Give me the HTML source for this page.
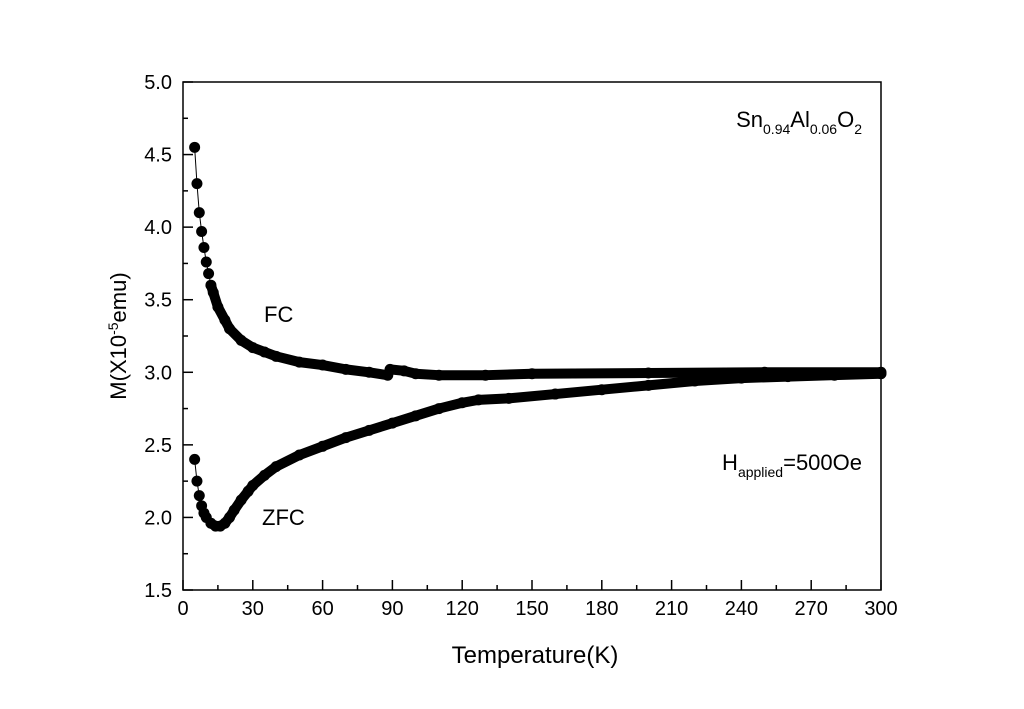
<!DOCTYPE html>
<html><head><meta charset="utf-8"><style>
body{margin:0;background:#fff;}
svg{display:block;font-family:"Liberation Sans",Arial,sans-serif;}
</style></head><body>
<svg id="chart" width="1024" height="709">
<rect x="183" y="82" width="698" height="508" fill="none" stroke="#000" stroke-width="1.5"/>
<g id="axes"></g>
<g id="series"></g>
<text x="535" y="663" font-size="24" text-anchor="middle">Temperature(K)</text>
<text transform="translate(126,336) rotate(-90)" font-size="22" text-anchor="middle">M(X10<tspan font-size="14" dy="-8">-5</tspan><tspan dy="8">emu)</tspan></text>
<text x="862" y="127" font-size="22" text-anchor="end">Sn<tspan font-size="14" dy="7">0.94</tspan><tspan dy="-7">Al</tspan><tspan font-size="14" dy="7">0.06</tspan><tspan dy="-7">O</tspan><tspan font-size="14" dy="7">2</tspan></text>
<text x="862" y="470" font-size="22" text-anchor="end">H<tspan font-size="14" dy="7">applied</tspan><tspan dy="-7">=500Oe</tspan></text>
<text x="264" y="322" font-size="22">FC</text>
<text x="262" y="525" font-size="22">ZFC</text>
</svg>
<script>
const xTicks=[0,30,60,90,120,150,180,210,240,270,300];
const yTicks=[1.5,2.0,2.5,3.0,3.5,4.0,4.5,5.0];
const fcT=[5,6,7,8,9,10,11,12,13,15,18,20,25,30,35,40,50,60,70,80,88,89,95,100,110,130,150,200,250,300];
const fcM=[4.55,4.30,4.10,3.97,3.86,3.76,3.68,3.60,3.55,3.45,3.36,3.30,3.22,3.17,3.14,3.11,3.07,3.05,3.02,3.00,2.98,3.02,3.01,2.99,2.98,2.98,2.99,2.995,3.0,3.0];
const zfcT=[5,6,7,8,9,10,12,14,16,18,20,22,25,28,30,35,40,50,60,70,80,90,100,110,120,127,140,160,180,200,220,240,260,280,300];
const zfcM=[2.40,2.25,2.15,2.08,2.03,2.00,1.96,1.94,1.94,1.96,2.00,2.05,2.12,2.18,2.22,2.29,2.35,2.43,2.49,2.55,2.60,2.65,2.70,2.75,2.79,2.81,2.82,2.85,2.88,2.91,2.94,2.96,2.97,2.98,2.99];
const NS="http://www.w3.org/2000/svg";
const X=t=>183+(t/300)*698;
const Y=m=>590-(m-1.5)/3.5*508;
const axes=document.getElementById('axes'),ser=document.getElementById('series');
function mk(tag,attrs,parent){const e=document.createElementNS(NS,tag);for(const k in attrs)e.setAttribute(k,attrs[k]);parent.appendChild(e);return e;}
xTicks.forEach((t,i)=>{
 const l=mk('line',{x1:X(t),x2:X(t),y1:590,y2:580,stroke:'#000','stroke-width':1.5},axes);
 
 
 if(i<xTicks.length-1){const m=mk('line',{x1:X(t+15),x2:X(t+15),y1:590,y2:585,stroke:'#000','stroke-width':1.5},axes);
 
 }
 const tx=mk('text',{x:X(t),y:615,'font-size':20,'text-anchor':'middle'},axes);tx.textContent=t;
 
 
});
yTicks.forEach((v,i)=>{
 const l=mk('line',{x1:183,x2:193,y1:Y(v),y2:Y(v),stroke:'#000','stroke-width':1.5},axes);
 
 
 if(i<yTicks.length-1){const m=mk('line',{x1:183,x2:188,y1:Y(v+0.25),y2:Y(v+0.25),stroke:'#000','stroke-width':1.5},axes);
 
 }
 const tx=mk('text',{x:172,y:Y(v)+7,'font-size':20,'text-anchor':'end'},axes);tx.textContent=v.toFixed(1);
 
 
});
function draw(T,M,name){
 const g=mk('g',{},ser);
 
 
 const all=T.map((t,i)=>X(t)+','+Y(M[i])).join(' ');
 mk('polyline',{points:all,fill:'none',stroke:'#000','stroke-width':1},g);
 const thick=T.map((t,i)=>t>=12?X(t)+','+Y(M[i]):null).filter(Boolean).join(' ');
 const p=mk('polyline',{points:thick,fill:'none',stroke:'#000','stroke-width':10,'stroke-linecap':'round','stroke-linejoin':'round'},g);
 
 
 T.forEach((t,i)=>{const c=mk('circle',{cx:X(t),cy:Y(M[i]),r:5.5,fill:'#000'},g);
 
 });
}
draw(fcT,fcM,'fc');
draw(zfcT,zfcM,'zfc');
</script>
</body></html>
